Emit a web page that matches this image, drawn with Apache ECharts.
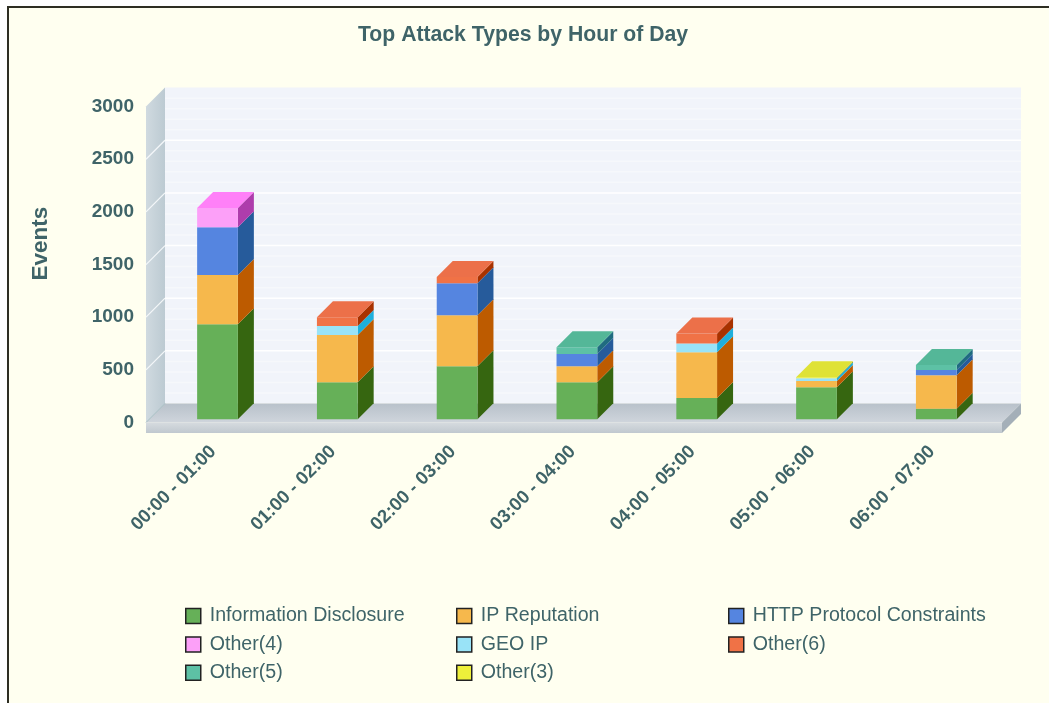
<!DOCTYPE html>
<html>
<head>
<meta charset="utf-8">
<style>
html,body{margin:0;padding:0;background:#fff;overflow:hidden;width:1049px;height:703px}
#frame{position:absolute;left:7px;top:6px;width:1100px;height:800px;background:#fffff0;border-left:2px solid #2e2e22;border-top:2px solid #2e2e22}
#chart{position:absolute;left:0;top:0;width:1049px;height:703px;filter:blur(0.45px)}
</style>
<script src="https://cdn.jsdelivr.net/npm/echarts@6/dist/echarts.min.js"></script>
</head>
<body>
<div id="frame"></div>
<div id="chart"></div>
<script>
const categories = ['00:00 - 01:00','01:00 - 02:00','02:00 - 03:00','03:00 - 04:00','04:00 - 05:00','05:00 - 06:00','06:00 - 07:00'];
const yTicks = [0,500,1000,1500,2000,2500,3000];
const minorTicks = [100,200,300,400,600,700,800,900,1100,1200,1300,1400,1600,1700,1800,1900,2100,2200,2300,2400,2600,2700,2800,2900];

const infoDisclosure = [902,351,503,351,202,304,100];
const ipReputation   = [468,449,484,152,434,60,318];
const httpProtocol   = [453,0,304,117,0,0,50];
const other4         = [183,0,0,0,0,0,0];
const geoIp          = [0,86,0,0,85,25,0];
const other6         = [0,82,60,0,95,0,0];
const other5         = [0,0,0,64,0,0,47];
const other3         = [0,0,0,0,0,10,0];

const stacks = [
  {name:'Information Disclosure', values:infoDisclosure, front:'#66b058', side:'#366610', top:'#66b058'},
  {name:'IP Reputation', values:ipReputation, front:'#f6b84c', side:'#bd5b00', top:'#f6b84c'},
  {name:'HTTP Protocol Constraints', values:httpProtocol, front:'#5585e0', side:'#265b9b', top:'#5585e0'},
  {name:'Other(4)', values:other4, front:'#fca0f8', side:'#ae3dac', top:'#ff80f8'},
  {name:'GEO IP', values:geoIp, front:'#99e3f7', side:'#1fafdb', top:'#99e3f7'},
  {name:'Other(6)', values:other6, front:'#f07246', side:'#a83200', top:'#ec7049'},
  {name:'Other(5)', values:other5, front:'#5dc1a5', side:'#1f6b80', top:'#54b798'},
  {name:'Other(3)', values:other3, front:'#eef03a', side:'#9da21e', top:'#dfe236'}
];

const depth = 16, wallDepth = 19, barInset = 3.2, barRatio = 0.34;
const INK = '#3f6468', FONT = '"Liberation Sans", Arial, sans-serif';

const running = categories.map(() => 0);
const totals = categories.map((_, c) => stacks.reduce((s, t) => s + t.values[c], 0));

const barSeries = stacks.map(st => {
  const data = [];
  st.values.forEach((v, c) => {
    data.push([c, running[c], running[c] + v, running[c] + v >= totals[c] ? 1 : 0]);
    running[c] += v;
  });
  return {
    type: 'custom', name: st.name, coordinateSystem: 'cartesian2d', z: 3, clip: false, silent: true,
    itemStyle: {color: st.front},
    encode: {x: 0, y: [1, 2]},
    data,
    renderItem(params, api) {
      const base = api.value(1), top = api.value(2);
      if (top <= base) return null;
      const c = api.value(0);
      const w = api.size([1, 0])[0] * barRatio;
      const a = api.coord([c, base]), b = api.coord([c, top]);
      const x0 = a[0] - w / 2, x1 = a[0] + w / 2;
      const y0 = a[1] - barInset, y1 = b[1] - barInset;
      const children = [
        {type:'polygon', shape:{points:[[x1,y0],[x1+depth,y0-depth],[x1+depth,y1-depth],[x1,y1]]}, style:{fill:st.side}},
        {type:'rect', shape:{x:x0, y:y1, width:w, height:y0-y1}, style:{fill:st.front}}
      ];
      if (api.value(3)) children.push({type:'polygon', shape:{points:[[x0,y1],[x1,y1],[x1+depth,y1-depth],[x0+depth,y1-depth]]}, style:{fill:st.top}});
      return {type:'group', children};
    }
  };
});

const wallSeries = {
  type: 'custom', name: 'walls', coordinateSystem: 'cartesian2d', z: 1, clip: false, silent: true,
  data: [[0, 0]],
  encode: {x: 0, y: 1},
  renderItem(params, api) {
    const cs = params.coordSys;
    const L = cs.x - 11.6, R = cs.x + cs.width + 5.8;
    const yb = api.coord([0, 0])[1], yt = api.coord([0, 3000])[1];
    const d = wallDepth, baseH = 10.5;
    const kids = [];
    kids.push({type:'rect', shape:{x:L+d, y:yt-d, width:R-L, height:yb-yt}, style:{fill:'#f1f4fa'}});
    minorTicks.forEach(t => {
      const y = api.coord([0, t])[1] - d;
      kids.push({type:'line', shape:{x1:L+d, y1:y, x2:R+d, y2:y}, style:{stroke:'#f6f8fb', lineWidth:1.5}});
    });
    yTicks.slice(1, -1).forEach(t => {
      const y = api.coord([0, t])[1] - d;
      kids.push({type:'line', shape:{x1:L+d, y1:y, x2:R+d, y2:y}, style:{stroke:'#ffffff', lineWidth:1.5}});
    });
    kids.push({type:'polygon', shape:{points:[[L,yt],[L+d,yt-d],[L+d,yb-d],[L,yb]]},
      style:{fill:new echarts.graphic.LinearGradient(0,0,1,0,[{offset:0,color:'#d0dae0'},{offset:1,color:'#bccad2'}])}});
    yTicks.slice(1, -1).forEach(t => {
      const y = api.coord([0, t])[1];
      kids.push({type:'line', shape:{x1:L, y1:y, x2:L+d, y2:y-d}, style:{stroke:'#f4f7f9', lineWidth:1.2}});
    });
    kids.push({type:'polygon', shape:{points:[[L,yb],[L+d,yb-d],[R+d,yb-d],[R,yb]]},
      style:{fill:new echarts.graphic.LinearGradient(0,0,0,1,[{offset:0,color:'#b8c1ca'},{offset:1,color:'#cfd5dc'}])}});
    kids.push({type:'line', shape:{x1:L, y1:yb, x2:L+d, y2:yb-d}, style:{stroke:'#a3bcc0', lineWidth:1}});
    kids.push({type:'rect', shape:{x:L, y:yb, width:R-L, height:baseH},
      style:{fill:new echarts.graphic.LinearGradient(0,0,0,1,[{offset:0,color:'#d6dbdf'},{offset:1,color:'#c0c8cf'}])}});
    kids.push({type:'polygon', shape:{points:[[R,yb],[R+d,yb-d],[R+d,yb-d+baseH],[R,yb+baseH]]}, style:{fill:'#a4afb8'}});
    return {type:'group', children:kids};
  }
};

const legendBase = {
  orient:'vertical', top:601, itemWidth:15, itemHeight:15, itemGap:8.4, selectedMode:false, icon:'rect',
  itemStyle:{borderColor:'#222', borderWidth:1.5},
  textStyle:{color:INK, fontFamily:FONT, fontSize:19.6, lineHeight:15, padding:[0,0,0,4]}
};
const legendColumns = [
  {left:180, names:['Information Disclosure','Other(4)','Other(5)']},
  {left:451, names:['IP Reputation','GEO IP','Other(3)']},
  {left:723, names:['HTTP Protocol Constraints','Other(6)']}
];

const chart = echarts.init(document.getElementById('chart'), null, {renderer:'canvas'});
chart.setOption({
  animation:false,
  backgroundColor:'transparent',
  title:{text:'Top Attack Types by Hour of Day', left:353, top:20,
    textStyle:{color:INK, fontFamily:FONT, fontSize:21.2, fontWeight:'bold'}},
  grid:{left:157.6, width:838.6, top:106.6, height:315.9, containLabel:false},
  xAxis:{type:'category', data:categories, axisLine:{show:false}, axisTick:{show:false},
    axisLabel:{rotate:45, margin:22, interval:0, color:INK, fontFamily:FONT, fontSize:18.6, fontWeight:'bold', padding:[0,6,0,0]}},
  yAxis:{type:'value', min:0, max:3000, interval:500, axisLine:{show:false}, axisTick:{show:false}, splitLine:{show:false},
    axisLabel:{margin:23.6, color:INK, fontFamily:FONT, fontSize:19, fontWeight:'bold', formatter:v => String(v)},
    name:'Events', nameLocation:'middle', nameGap:105, nameRotate:90,
    nameTextStyle:{color:INK, fontFamily:FONT, fontSize:22.5, fontWeight:'bold', padding:[0,0,0,42]}},
  legend:legendColumns.map(c => Object.assign({}, legendBase, {left:c.left, data:c.names})),
  series:[wallSeries].concat(barSeries)
});
</script>
</body>
</html>
